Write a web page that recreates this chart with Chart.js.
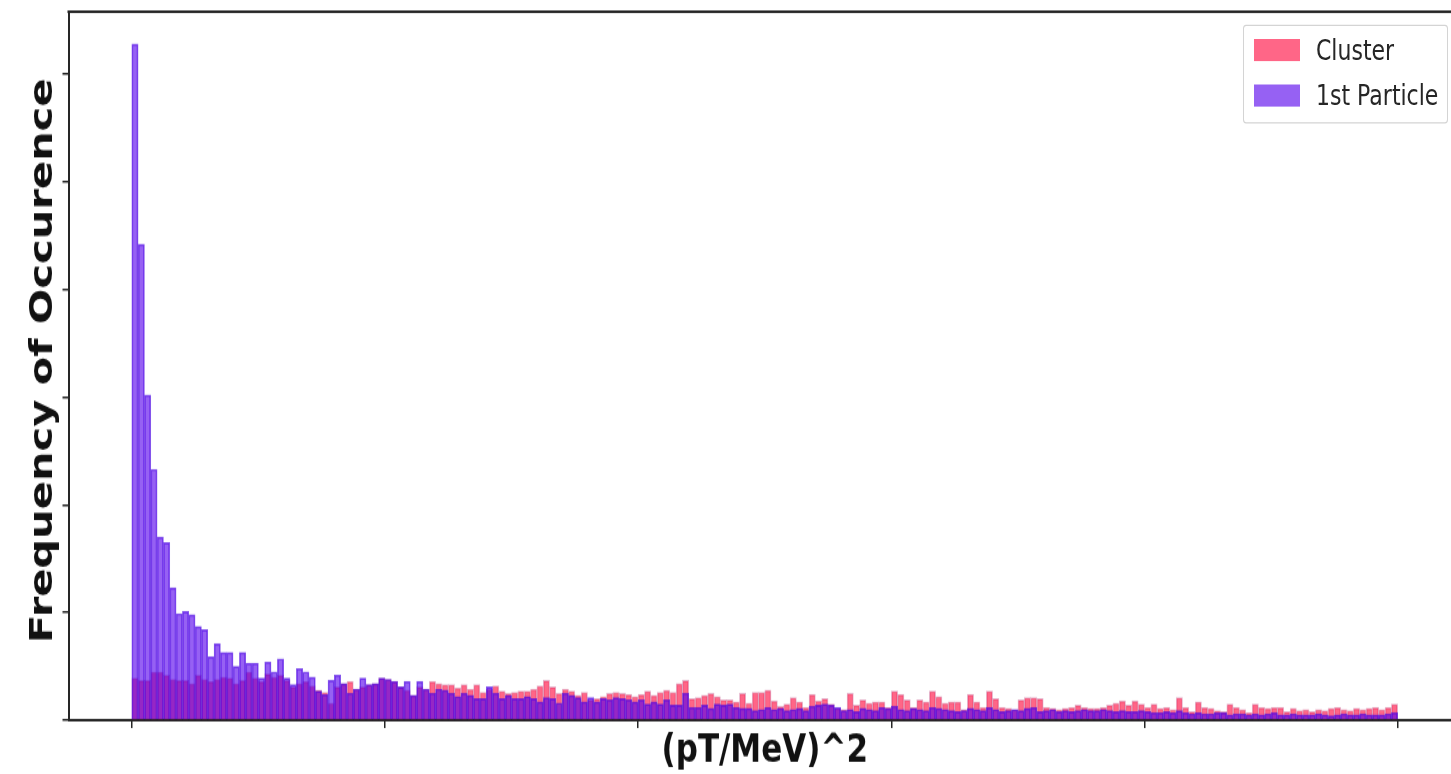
<!DOCTYPE html>
<html>
<head>
<meta charset="utf-8">
<title>(pT/MeV)^2 histogram</title>
<script src="https://cdn.jsdelivr.net/npm/chart.js@4.4.0/dist/chart.umd.min.js"></script>
<style>
  html, body { margin: 0; padding: 0; background: #fff; overflow: hidden; }
  /* the source picture is stretched vertically, so the whole chart is too */
  #wrap { position: absolute; left: 0; top: 0; width: 1465px; height: 596px; transform: scaleY(1.3); transform-origin: 0 0; }
  #legend { position: absolute; left: 1243px; top: 18.5px; width: 205px; height: 76px; box-sizing: border-box;
            border: 1px solid #d4d4d4; border-radius: 3px; background: rgba(255,255,255,0.85);
            font: 22px "DejaVu Sans", sans-serif; color: #262626; }
  .row { position: absolute; left: 10px; height: 17px; line-height: 17px; white-space: nowrap; }
  .patch { position: absolute; left: 0; top: 0; width: 46px; height: 17px; }
  .label { position: absolute; left: 62px; top: 0; }
</style>
</head>
<body>
<div id="wrap">
  <canvas id="myChart" width="1465" height="596"></canvas>
  <div id="legend"></div>
</div>
<script>
const seriesNames = ['Cluster', '1st Particle']

// counts per bin, 200 bins
const clusterCounts = [
  39, 37, 37, 45, 45, 42, 38, 37, 37, 34,
  42, 38, 36, 38, 40, 39, 34, 37, 45, 39,
  36, 43, 40, 42, 37, 31, 34, 36, 32, 28,
  26, 16, 31, 34, 36, 29, 31, 33, 34, 39,
  38, 36, 31, 28, 23, 31, 29, 36, 34, 33,
  33, 30, 33, 29, 33, 26, 29, 32, 27, 25,
  26, 27, 27, 29, 32, 37, 31, 25, 29, 27,
  23, 26, 19, 20, 22, 25, 26, 25, 24, 22,
  24, 27, 23, 26, 28, 26, 34, 37, 20, 21,
  23, 25, 22, 19, 19, 17, 25, 16, 26, 26,
  28, 18, 13, 15, 21, 17, 12, 24, 18, 20,
  15, 11, 10, 25, 14, 19, 16, 17, 17, 12,
  27, 24, 19, 12, 19, 17, 27, 22, 16, 17,
  17, 10, 24, 17, 12, 27, 20, 12, 11, 10,
  19, 21, 21, 20, 12, 11, 10, 11, 12, 14,
  12, 11, 11, 12, 14, 16, 18, 14, 18, 15,
  12, 15, 11, 12, 10, 21, 12, 8, 17, 12,
  11, 9, 8, 15, 12, 10, 7, 15, 12, 11,
  12, 12, 8, 11, 9, 10, 8, 10, 9, 11,
  12, 10, 9, 11, 10, 11, 12, 10, 12, 15
]

const particleCounts = [
  628, 442, 302, 233, 170, 165, 123, 99, 101, 98,
  87, 84, 59, 71, 63, 63, 50, 63, 53, 53,
  39, 54, 45, 57, 39, 33, 48, 45, 40, 27,
  24, 37, 42, 34, 25, 29, 39, 33, 34, 39,
  38, 36, 31, 36, 23, 36, 29, 25, 29, 28,
  25, 22, 25, 23, 20, 20, 31, 25, 20, 23,
  20, 20, 22, 20, 17, 21, 20, 16, 25, 23,
  21, 17, 21, 17, 20, 19, 21, 20, 19, 17,
  19, 15, 17, 15, 19, 14, 14, 25, 12, 12,
  14, 11, 15, 14, 15, 12, 11, 11, 9, 10,
  12, 10, 11, 9, 10, 11, 9, 13, 14, 15,
  14, 12, 9, 10, 8, 11, 10, 9, 12, 11,
  13, 10, 9, 11, 10, 9, 12, 11, 10, 9,
  8, 9, 11, 10, 9, 12, 10, 8, 9, 10,
  9, 11, 12, 8, 9, 10, 8, 9, 8, 9,
  10, 9, 9, 10, 9, 8, 9, 8, 8, 9,
  8, 7, 7, 8, 7, 9, 7, 6, 7, 6,
  6, 7, 7, 5, 6, 6, 5, 6, 5, 6,
  7, 5, 5, 6, 5, 5, 5, 6, 5, 4,
  5, 6, 5, 5, 6, 5, 5, 5, 6, 7
]

const xTicks = [0, 40, 80, 120, 160, 200]
const yTicks = [0, 100, 200, 300, 400, 500, 600]
const xTitle = '(pT/MeV)^2'
const yTitle = 'Frequency of Occurence'

const colors = ['rgba(255, 0, 55, 0.6)', 'rgba(85, 0, 235, 0.62)']
const edgeColors = ['rgba(170, 0, 80, 0.3)', 'rgba(70, 0, 225, 0.65)']
const axisColor = '#262626'

/**
 * turns a list of counts into {x, y} points at the bin centres
 */
const toBins = (counts) => counts.map((c, i) => ({ x: i + 0.5, y: c }))

/* top spine and the two axis titles */
const frameAndTitles = {
  id: 'frameAndTitles',
  afterDraw(chart) {
    const { ctx, chartArea } = chart
    ctx.save()
    ctx.strokeStyle = axisColor
    ctx.lineWidth = 2
    ctx.beginPath()
    ctx.moveTo(chartArea.left - 1, chartArea.top)
    ctx.lineTo(chartArea.right, chartArea.top)
    ctx.stroke()

    ctx.fillStyle = '#111'
    ctx.textAlign = 'center'
    ctx.textBaseline = 'alphabetic'
    ctx.font = 'bold 31px "DejaVu Sans"'
    ctx.fillText(xTitle, (chartArea.left + chartArea.right) / 2, chartArea.bottom + 32)

    ctx.font = 'bold 32px "DejaVu Sans"'
    ctx.translate(chartArea.left - 16.5, (chartArea.top + chartArea.bottom) / 2 - 4)
    ctx.rotate(-Math.PI / 2)
    ctx.fillText(yTitle, 0, 0)
    ctx.restore()
  }
}

const buildLegend = () => {
  const legendDom = document.getElementById('legend')
  let html = ``
  seriesNames.forEach((name, i) => {
    html += `
      <div class="row" style="top:${i === 0 ? 10.7 : 45.3}px">
        <div class="patch" style="background:${colors[i]}"></div>
        <div class="label">${name}</div>
      </div>`
  })
  legendDom.innerHTML = html
}

const drawChart = () => {
  const ctx = document.getElementById('myChart').getContext('2d')
  new Chart(ctx, {
    type: 'bar',
    data: {
      datasets: [
        {
          label: seriesNames[0],
          data: toBins(clusterCounts),
          backgroundColor: colors[0],
          borderColor: edgeColors[0],
          borderWidth: 1,
          order: 1
        },
        {
          label: seriesNames[1],
          data: toBins(particleCounts),
          backgroundColor: colors[1],
          borderColor: edgeColors[1],
          borderWidth: 1,
          order: 0
        }
      ]
    },
    options: {
      responsive: false,
      animation: false,
      devicePixelRatio: 1,
      grouped: false,
      barPercentage: 1,
      categoryPercentage: 1,
      layout: { padding: { left: 62.5, right: 4, top: 9, bottom: 36 } },
      plugins: { legend: { display: false }, tooltip: { enabled: false } },
      scales: {
        x: {
          type: 'linear',
          min: -10,
          max: 210,
          offset: false,
          afterBuildTicks: (scale) => { scale.ticks = xTicks.map(v => ({ value: v })) },
          ticks: { display: false },
          grid: { offset: false, drawOnChartArea: false, drawTicks: true, tickLength: 6, color: axisColor, lineWidth: 1.5 },
          border: { display: true, color: axisColor, width: 2 }
        },
        y: {
          min: 0,
          max: 658,
          afterBuildTicks: (scale) => { scale.ticks = yTicks.map(v => ({ value: v })) },
          ticks: { display: false },
          grid: { offset: false, drawOnChartArea: false, drawTicks: true, tickLength: 6, color: axisColor, lineWidth: 1.5 },
          border: { display: true, color: axisColor, width: 2 }
        }
      }
    },
    plugins: [frameAndTitles]
  })
}

window.addEventListener('load', () => {
  buildLegend()
  drawChart()
})
</script>
</body>
</html>
